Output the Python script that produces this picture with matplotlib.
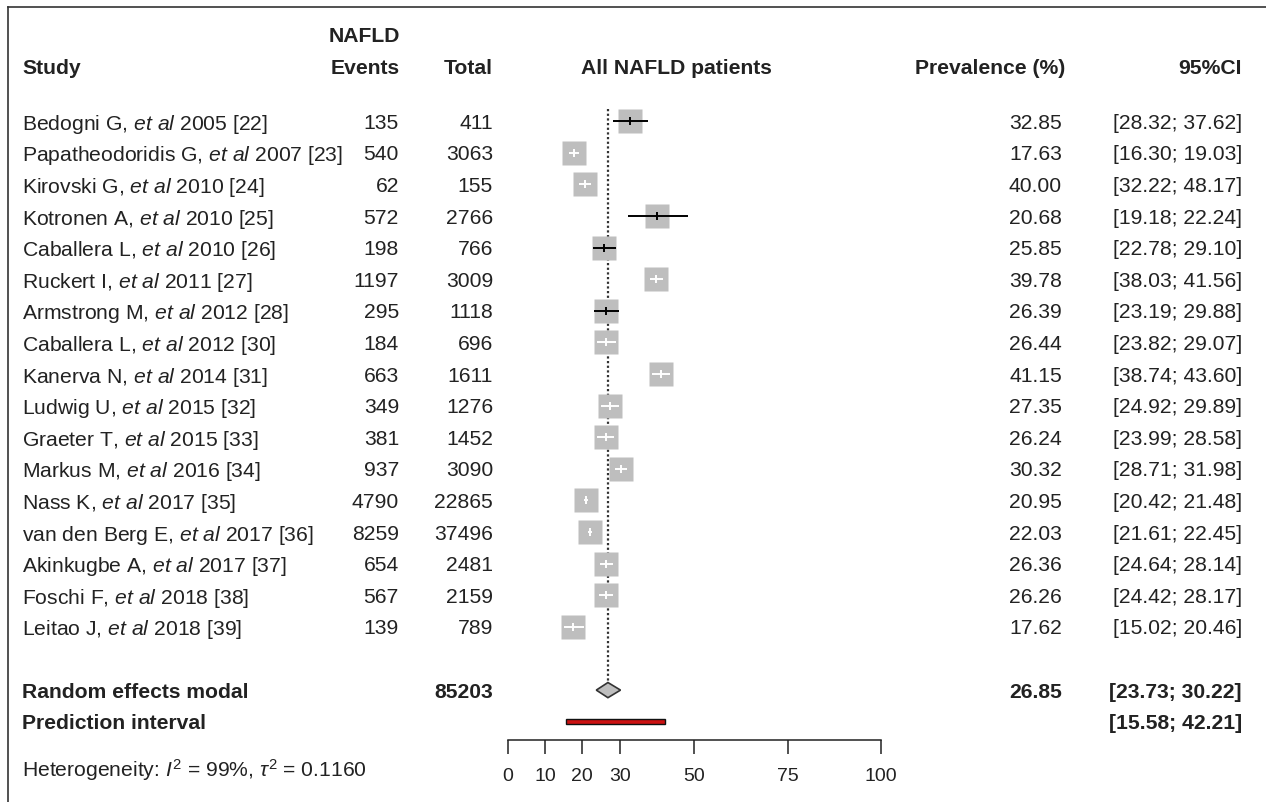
import numpy as np
import matplotlib
matplotlib.use('Agg')
import matplotlib.pyplot as plt
from matplotlib import transforms
from matplotlib.lines import Line2D
from matplotlib.patches import Polygon, Rectangle

plt.rcParams['font.family'] = ['Liberation Sans', 'DejaVu Sans']
plt.rcParams['mathtext.fontset'] = 'custom'
plt.rcParams['mathtext.rm'] = 'Liberation Sans'
plt.rcParams['mathtext.it'] = 'Liberation Sans:italic'
plt.rcParams['mathtext.bf'] = 'Liberation Sans:bold'

# table values
authors = ["Bedogni G", "Papatheodoridis G", "Kirovski G", "Kotronen A", "Caballera L",
           "Ruckert I", "Armstrong M", "Caballera L", "Kanerva N", "Ludwig U", "Graeter T",
           "Markus M", "Nass K", "van den Berg E", "Akinkugbe A", "Foschi F", "Leitao J"]
years = [2005, 2007, 2010, 2010, 2010, 2011, 2012, 2012, 2014, 2015, 2015, 2016,
         2017, 2017, 2017, 2018, 2018]
refs = [22, 23, 24, 25, 26, 27, 28, 30, 31, 32, 33, 34, 35, 36, 37, 38, 39]
events = [135, 540, 62, 572, 198, 1197, 295, 184, 663, 349, 381, 937, 4790, 8259, 654, 567, 139]
totals = [411, 3063, 155, 2766, 766, 3009, 1118, 696, 1611, 1276, 1452, 3090, 22865,
          37496, 2481, 2159, 789]
prevalence = [32.85, 17.63, 40.00, 20.68, 25.85, 39.78, 26.39, 26.44, 41.15, 27.35, 26.24,
              30.32, 20.95, 22.03, 26.36, 26.26, 17.62]
ci_low = [28.32, 16.30, 32.22, 19.18, 22.78, 38.03, 23.19, 23.82, 38.74, 24.92, 23.99,
          28.71, 20.42, 21.61, 24.64, 24.42, 15.02]
ci_high = [37.62, 19.03, 48.17, 22.24, 29.10, 41.56, 29.88, 29.07, 43.60, 29.89, 28.58,
           31.98, 21.48, 22.45, 28.14, 28.17, 20.46]

# markers as they appear in the figure (rows 3 and 4 are drawn swapped there)
drawn_est = [32.85, 17.63, 20.68, 40.00, 25.85, 39.78, 26.39, 26.44, 41.15, 27.35, 26.24,
             30.32, 20.95, 22.03, 26.36, 26.26, 17.62]
drawn_low = [28.32, 16.30, 19.18, 32.22, 22.78, 38.03, 23.19, 23.82, 38.74, 24.92, 23.99,
             28.71, 20.42, 21.61, 24.64, 24.42, 15.02]
drawn_high = [37.62, 19.03, 22.24, 48.17, 29.10, 41.56, 29.88, 29.07, 43.60, 29.89, 28.58,
              31.98, 21.48, 22.45, 28.14, 28.17, 20.46]

pooled_total = 85203
pooled_est = 26.85
pooled_ci = [23.73, 30.22]
pred_int = [15.58, 42.21]
x_ticks = [0, 10, 20, 30, 50, 75, 100]

W, H = 1266, 802
fig = plt.figure(figsize=(W / 100, H / 100), dpi=100)
fig.patch.set_facecolor('white')

# forest panel: x 0..100 from px 507.7 to 881, row 0 at px 121.3, 31.6 px per row
row0, row_h = 121.3, 31.6
ax_bottom, ax_top = 739.5, 80
ax = fig.add_axes([507.7 / W, (H - ax_bottom) / H, (881 - 507.7) / W, (ax_bottom - ax_top) / H])
ax.set_xlim(0, 100)
ax.set_ylim((ax_bottom - row0) / row_h, (ax_top - row0) / row_h)
ax.patch.set_visible(False)
for s in ['top', 'left', 'right']:
    ax.spines[s].set_visible(False)
ax.spines['bottom'].set_color('#222222')
ax.spines['bottom'].set_linewidth(1.1)
ax.set_yticks([])
ax.set_xticks(x_ticks)
ax.tick_params(axis='x', direction='out', length=10, width=1.1, pad=10.5,
               labelsize=14, colors='#222222')

def row_of(px):
    return (px - row0) / row_h

rows = np.arange(len(authors))
re_row = 18
pi_row = 19

# reference line at the pooled estimate
ax.plot([pooled_est, pooled_est], [row_of(109), re_row - 0.24], color='#333333',
        lw=1.6, linestyle=(0, (1, 1.1)), zorder=1)

# study boxes
ax.plot(drawn_est, rows, 's', ms=17.3, color='#bebebe', mec='none', zorder=2)
for r, e, lo, hi in zip(rows, drawn_est, drawn_low, drawn_high):
    c = 'black' if (hi - lo) > 6.0 else 'white'
    ax.plot([lo, hi], [r, r], color=c, lw=1.4, solid_capstyle='butt', zorder=3)
    ax.plot([e], [r], marker='|', ms=6, mew=1.4, color=c, zorder=3)

# pooled diamond
ax.add_patch(Polygon([(pooled_ci[0], re_row), (pooled_est, re_row - 0.24),
                      (pooled_ci[1], re_row), (pooled_est, re_row + 0.24)],
                     closed=True, fc='#bebebe', ec='#333333', lw=1.2, zorder=3))

# prediction interval
ax.add_patch(Rectangle((pred_int[0], pi_row - 0.075), pred_int[1] - pred_int[0], 0.15,
                       fc='#cc1111', ec='#111111', lw=1.0, zorder=3))

# text columns
trans = transforms.blended_transform_factory(transforms.IdentityTransform(), ax.transData)
fs = 15.2
tc = '#222222'

def put(x, y, s, ha, bold=False):
    ax.text(x, y, s, transform=trans, ha=ha, va='center_baseline', fontsize=fs,
            color=tc, fontweight='bold' if bold else 'normal', clip_on=False)

h1, h2 = row_of(34), row_of(67)
put(400, h1, "NAFLD", 'right', True)
put(22, h2, "Study", 'left', True)
put(400, h2, "Events", 'right', True)
put(493, h2, "Total", 'right', True)
put(676, h2, "All NAFLD patients", 'center', True)
put(1065, h2, "Prevalence (%)", 'right', True)
put(1242, h2, "95%CI", 'right', True)

for r in rows:
    label = f"{authors[r]}, $\\mathit{{et\\ al}}$ {years[r]} [{refs[r]}]"
    put(22, r, label, 'left')
    put(399, r, str(events[r]), 'right')
    put(493, r, str(totals[r]), 'right')
    put(1062, r, f"{prevalence[r]:.2f}", 'right')
    put(1242, r, f"[{ci_low[r]:.2f}; {ci_high[r]:.2f}]", 'right')

put(22, re_row, "Random effects modal", 'left', True)
put(493, re_row, str(pooled_total), 'right', True)
put(1062, re_row, f"{pooled_est:.2f}", 'right', True)
put(1242, re_row, f"[{pooled_ci[0]:.2f}; {pooled_ci[1]:.2f}]", 'right', True)
put(22, pi_row, "Prediction interval", 'left', True)
put(1242, pi_row, f"[{pred_int[0]:.2f}; {pred_int[1]:.2f}]", 'right', True)
put(22, row_of(767), "Heterogeneity: $I^2$ = 99%, $\\tau^2$ = 0.1160", 'left')

# frame lines (top and left)
fig.add_artist(Line2D([8, 8], [0, H - 7], transform=transforms.IdentityTransform(),
                      color='#333333', lw=1.2))
fig.add_artist(Line2D([8, W], [H - 7, H - 7], transform=transforms.IdentityTransform(),
                      color='#333333', lw=1.2))

fig.savefig('out.png', dpi=100)
